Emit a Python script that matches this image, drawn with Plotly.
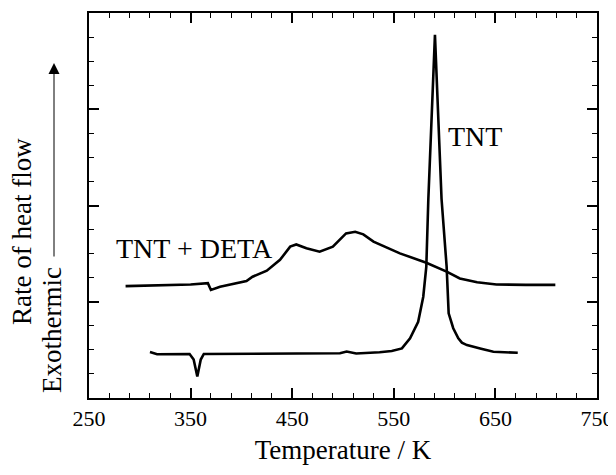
import plotly.graph_objects as go

# TNT + DETA curve (temperature K, relative heat flow)
deta_T = [286, 320, 350, 367, 370, 379, 395, 405, 411, 425, 438, 448, 454, 464, 477, 490, 503, 512, 520, 530, 556, 582, 602, 615, 632, 651, 680, 709]
deta_y = [4.65, 4.68, 4.72, 4.77, 4.49, 4.62, 4.75, 4.86, 5.04, 5.29, 5.74, 6.29, 6.38, 6.22, 6.08, 6.29, 6.84, 6.91, 6.8, 6.5, 6.01, 5.62, 5.25, 4.97, 4.81, 4.72, 4.70, 4.70]

# TNT curve
tnt_T = [310, 317, 349, 353, 356.6, 360, 363, 400, 450, 497, 503.6, 513, 536, 548, 558, 566, 574, 579, 582, 584, 590.5, 597, 602, 604, 608.5, 613.5, 617, 622, 635, 648, 672]
tnt_y = [1.91, 1.82, 1.83, 1.6, 0.89, 1.6, 1.83, 1.84, 1.85, 1.86, 1.93, 1.85, 1.9, 1.95, 2.06, 2.48, 3.17, 4.21, 5.46, 8.27, 15.09, 8.27, 5.46, 3.52, 2.9, 2.48, 2.3, 2.2, 2.06, 1.92, 1.88]

x_ticks = [250, 350, 450, 550, 650, 750]

FONT = "Liberation Serif"
PAGE = 8                     # default body margin of the html page
W, H = 616 - PAGE, 475 - PAGE
# plot-area edges in window pixels
L, R, T, B = 89, 597, 13, 398


def px(x):
    return (x - L) / (R - L)


def py(y):
    return (B - y) / (B - T)


fig = go.Figure()
fig.add_trace(go.Scatter(x=deta_T, y=deta_y, mode="lines",
                         line=dict(color="black", width=2.6), showlegend=False,
                         hoverinfo="skip"))
fig.add_trace(go.Scatter(x=tnt_T, y=tnt_y, mode="lines",
                         line=dict(color="black", width=2.6), showlegend=False,
                         hoverinfo="skip"))
# carrier for the mirrored frame axes (top / right)
fig.add_trace(go.Scatter(x=[x_ticks[0]], y=[0], xaxis="x2", yaxis="y2", mode="markers",
                         marker=dict(opacity=0), showlegend=False, hoverinfo="skip"))

tick_common = dict(showgrid=False, zeroline=False, showline=True, linecolor="black",
                   linewidth=2, ticks="inside", ticklen=10, tickwidth=1.5,
                   tickcolor="black", automargin=False)
xminor = dict(dtick=20, tick0=250, ticks="inside", ticklen=5, tickcolor="black", tickwidth=1.2)
yminor = dict(dtick=1, tick0=0, ticks="inside", ticklen=5, tickcolor="black", tickwidth=1.2)

fig.update_layout(
    xaxis=dict(range=[250, 750], tickvals=x_ticks, ticktext=[str(v) for v in x_ticks],
               minor=xminor, tickfont=dict(family=FONT, size=22, color="black"),
               title=dict(text="Temperature / K", font=dict(family=FONT, size=27, color="black"),
                          standoff=10),
               mirror="allticks", **tick_common),
    xaxis2=dict(range=[250, 750], overlaying="x", side="top", anchor="y2",
                tickvals=x_ticks, showticklabels=False, minor=xminor, **tick_common),
    yaxis=dict(range=[0, 16], tick0=0, dtick=4, showticklabels=False, minor=yminor,
               mirror="allticks", **tick_common),
    yaxis2=dict(range=[0, 16], overlaying="y", side="right", anchor="x2",
                tick0=0, dtick=4, showticklabels=False, minor=yminor, **tick_common),
)

annotations = [
    dict(x=630, y=10.85, xref="x", yref="y", text="TNT", showarrow=False,
         font=dict(family=FONT, size=28, color="black")),
    dict(x=354, y=6.23, xref="x", yref="y", text="TNT + DETA", showarrow=False,
         font=dict(family=FONT, size=28, color="black")),
    dict(x=px(22), y=py(232), xref="paper", yref="paper", xanchor="center", yanchor="middle",
         text="Rate of heat flow", showarrow=False, textangle=-90,
         font=dict(family=FONT, size=27, color="black")),
    dict(x=px(52), y=py(330), xref="paper", yref="paper", xanchor="center", yanchor="middle",
         text="Exothermic", showarrow=False, textangle=-90,
         font=dict(family=FONT, size=27, color="black")),
    dict(x=px(54), y=py(63), xref="paper", yref="paper", ax=0, ay=258 - 63,
         axref="pixel", ayref="pixel", text="", showarrow=True, arrowhead=2,
         arrowsize=2.2, arrowwidth=1, arrowcolor="black"),
]

fig.update_layout(width=W, height=H, paper_bgcolor="white", plot_bgcolor="white",
                  margin=dict(l=L - PAGE, r=616 - R, t=T - PAGE, b=475 - B),
                  annotations=annotations, font=dict(family=FONT, color="black"))

fig.write_html("out.html")
